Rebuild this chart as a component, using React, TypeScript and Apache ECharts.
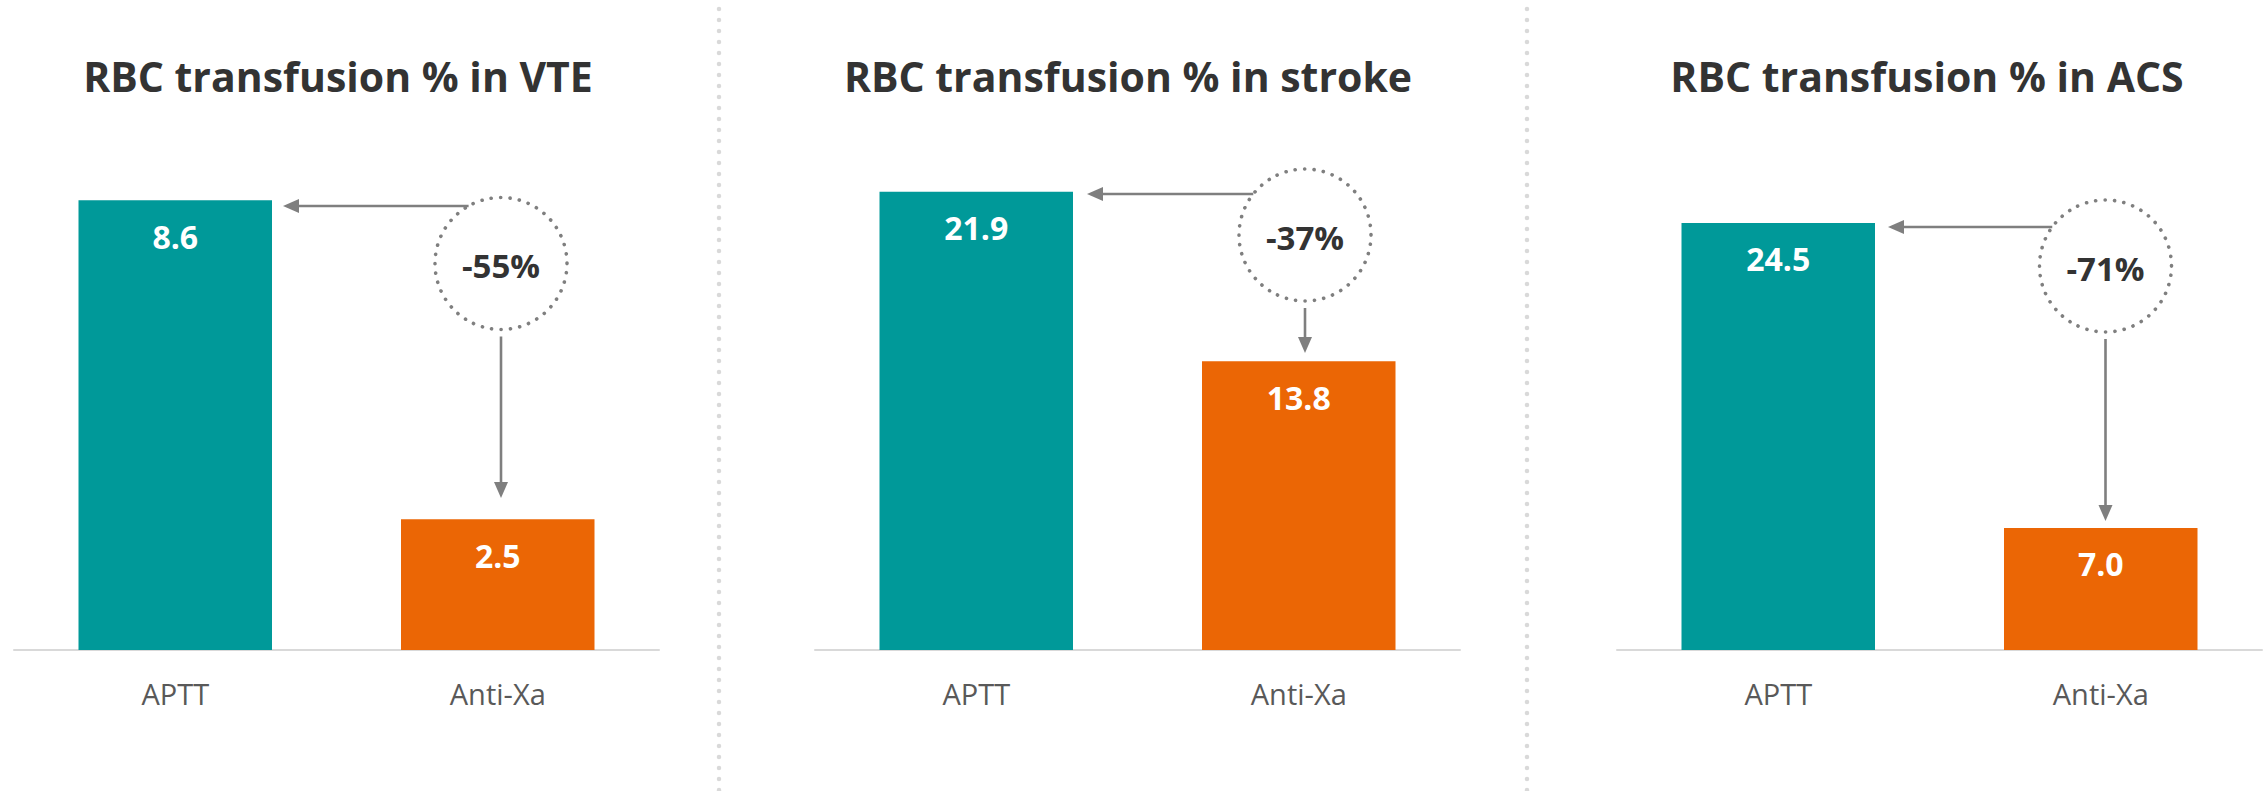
import React, { useEffect, useRef } from "react";
import * as echarts from "echarts";

// ---- data ----
const panelTitles = [
  "RBC transfusion % in VTE",
  "RBC transfusion % in stroke",
  "RBC transfusion % in ACS",
];
const categories = ["APTT", "Anti-Xa"];
const apttValues = [8.6, 21.9, 24.5];
const antiXaValues = [2.5, 13.8, 7.0];
const changeLabels = ["-55%", "-37%", "-71%"];
const axisMax = [10, 25, 30];

// ---- layout (pixels) ----
const W = 2264;
const H = 791;
const gridLefts = [14, 815, 1617];
const gridWidth = 645;
const gridTop = 127;
const gridHeight = 523;
const titleCenters = [338, 1128, 1927];
const dividerXs = [719, 1527];
const annot = [
  { cx: 501, cy: 263.5, arrowY: 206, tipX: 283, tipY: 498 },
  { cx: 1305, cy: 235, arrowY: 194, tipX: 1087, tipY: 353 },
  { cx: 2105.5, cy: 266, arrowY: 227, tipX: 1888, tipY: 521 },
];
const R = 66;

const TEAL = "#009999";
const ORANGE = "#EB6605";
const ARROW = "#7F7F7F";
const FONT = "'Open Sans', 'Noto Sans', sans-serif";

export default function App() {
  const ref = useRef<HTMLDivElement>(null);

  useEffect(() => {
    if (!ref.current) return;
    const chart = echarts.init(ref.current, undefined, { renderer: "svg" });

    const graphics: any[] = [];
    dividerXs.forEach((x) => {
      graphics.push({
        type: "line",
        silent: true,
        shape: { x1: x, y1: 9, x2: x, y2: H },
        style: {
          stroke: "#D9D9D9",
          lineWidth: 4.5,
          lineDash: [0.1, 10.9],
          lineCap: "round",
        },
      });
    });

    annot.forEach((a, i) => {
      // dotted circle
      graphics.push({
        type: "circle",
        silent: true,
        shape: { cx: a.cx, cy: a.cy, r: R },
        style: {
          fill: "none",
          stroke: ARROW,
          lineWidth: 3.6,
          lineDash: [0.1, 9.3],
          lineCap: "round",
        },
      });
      // percentage text
      graphics.push({
        type: "text",
        silent: true,
        style: {
          text: changeLabels[i],
          x: a.cx,
          y: a.cy + 2,
          align: "center",
          verticalAlign: "middle",
          textAlign: "center",
          textVerticalAlign: "middle",
          fill: "#333333",
          font: `bold 33px ${FONT}`,
        },
      });
      // horizontal arrow
      const dy = a.cy - a.arrowY;
      const startX = a.cx - Math.sqrt(Math.max(R * R - dy * dy, 0));
      graphics.push({
        type: "line",
        silent: true,
        shape: { x1: startX, y1: a.arrowY, x2: a.tipX + 14, y2: a.arrowY },
        style: { stroke: ARROW, lineWidth: 2.6 },
      });
      graphics.push({
        type: "polygon",
        silent: true,
        shape: {
          points: [
            [a.tipX, a.arrowY],
            [a.tipX + 16, a.arrowY - 7],
            [a.tipX + 16, a.arrowY + 7],
          ],
        },
        style: { fill: ARROW },
      });
      // vertical arrow
      graphics.push({
        type: "line",
        silent: true,
        shape: { x1: a.cx, y1: a.cy + R + 7, x2: a.cx, y2: a.tipY - 14 },
        style: { stroke: ARROW, lineWidth: 2.6 },
      });
      graphics.push({
        type: "polygon",
        silent: true,
        shape: {
          points: [
            [a.cx, a.tipY],
            [a.cx - 7, a.tipY - 16],
            [a.cx + 7, a.tipY - 16],
          ],
        },
        style: { fill: ARROW },
      });
    });

    const option: any = {
      animation: false,
      backgroundColor: "#FFFFFF",
      title: panelTitles.map((t, i) => ({
        text: t,
        left: titleCenters[i],
        top: 55,
        padding: 0,
        textAlign: "center",
        textStyle: {
          fontFamily: FONT,
          fontSize: 41,
          fontWeight: "bold",
          color: "#333333",
        },
      })),
      grid: gridLefts.map((l) => ({
        left: l,
        top: gridTop,
        width: gridWidth,
        height: gridHeight,
        containLabel: false,
      })),
      xAxis: gridLefts.map((_, i) => ({
        type: "category",
        gridIndex: i,
        data: categories,
        axisLine: { show: true, lineStyle: { color: "#D9D9D9", width: 2 } },
        axisTick: { show: false },
        axisLabel: {
          color: "#595959",
          fontFamily: FONT,
          fontSize: 29,
          margin: 29,
        },
      })),
      yAxis: gridLefts.map((_, i) => ({
        type: "value",
        gridIndex: i,
        min: 0,
        max: axisMax[i],
        show: false,
        splitLine: { show: false },
      })),
      series: gridLefts.map((_, i) => ({
        type: "bar",
        xAxisIndex: i,
        yAxisIndex: i,
        barWidth: "60%",
        data: [
          { value: apttValues[i], itemStyle: { color: TEAL } },
          { value: antiXaValues[i], itemStyle: { color: ORANGE } },
        ],
        label: {
          show: true,
          position: "insideTop",
          distance: 20,
          color: "#FFFFFF",
          fontFamily: FONT,
          fontSize: 32,
          fontWeight: "bold",
          formatter: (p: any) => Number(p.value).toFixed(1),
        },
      })),
      graphic: graphics,
    };

    chart.setOption(option);
    return () => chart.dispose();
  }, []);

  return (
    <div
      ref={ref}
      style={{ position: "fixed", left: 0, top: 0, width: W, height: H }}
    />
  );
}
